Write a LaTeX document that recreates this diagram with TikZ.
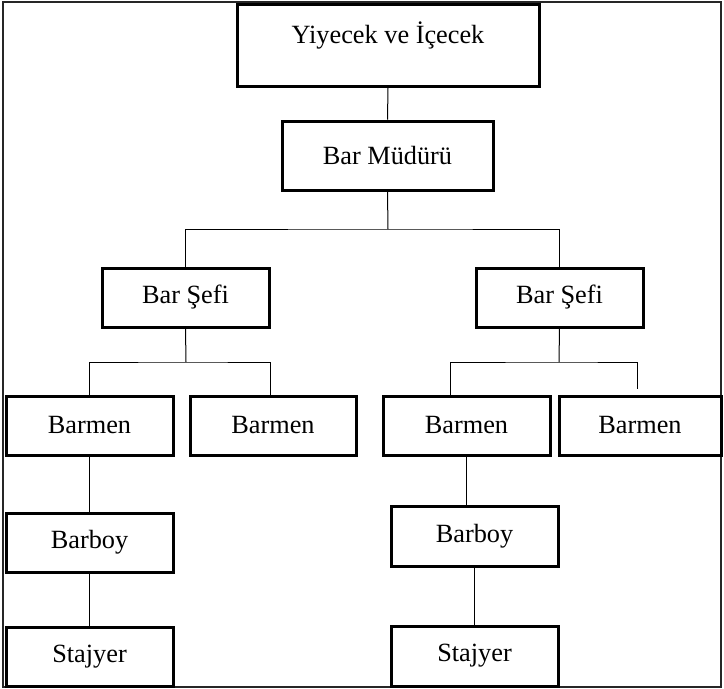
\documentclass[tikz,border=0pt]{standalone}
\usepackage{fontspec}
\setmainfont{Liberation Serif}
\begin{document}
\begin{tikzpicture}[x=1pt,y=-1pt,
  box/.style={draw=black, fill=white, line width=3pt, inner sep=0pt,
    font=\fontsize{26.3}{31}\selectfont},
  lbl/.style={inner sep=0pt, font=\fontsize{26.3}{31}\selectfont},
  link/.style={draw=black, line width=1pt},
  frame/.style={draw=black!85, line width=1.4pt}]
  \useasboundingbox (0,0) rectangle (724,689);

  % outer frame
  \draw[frame] (3,2) rectangle (721,687);

  % org chart boxes
  \node[box, minimum width=302pt, minimum height=82pt] (top) at (388,45.5) {};
  \node[lbl] (toptext) at (388,35) {Yiyecek ve İçecek};
  \node[box, minimum width=211pt, minimum height=69pt] (mgr) at (387.5,155.5) {Bar Müdürü};
  \node[box, minimum width=167pt, minimum height=59pt] (sefL) at (185.5,297.5) {Bar Şefi};
  \node[box, minimum width=167pt, minimum height=59pt] (sefR) at (559.5,297.5) {Bar Şefi};
  \node[box, minimum width=167pt, minimum height=59pt] (bm1) at (89.5,425.5) {Barmen};
  \node[box, minimum width=166pt, minimum height=59pt] (bm2) at (273,425.5) {Barmen};
  \node[box, minimum width=167pt, minimum height=59pt] (bm3) at (466.5,425.5) {Barmen};
  \node[box, minimum width=162pt, minimum height=59pt] (bm4) at (640,425.5) {Barmen};
  \node[box, minimum width=167pt, minimum height=59pt] (by1) at (89.5,542.5) {Barboy};
  \node[box, minimum width=167pt, minimum height=60pt] (by2) at (474.5,536) {Barboy};
  \node[box, minimum width=167pt, minimum height=59pt] (st1) at (89.5,656.5) {Stajyer};
  \node[box, minimum width=167pt, minimum height=60pt] (st2) at (474.5,656) {Stajyer};

  % junction points of the branch lines
  \coordinate (busA) at (388,229);
  \coordinate (busL) at (186,362);
  \coordinate (busR) at (559,362);
  \coordinate (stubR) at (637,389);

  % connectors
  \draw[link] (top.south) -- (mgr.north);
  \draw[link] (mgr.south) -- (busA);
  \draw[link] (sefL.north) |- (busA) -| (sefR.north);
  \draw[link] (sefL.south) -- (busL);
  \draw[link] (bm1.north) |- (busL) -| ([xshift=-3pt]bm2.north);
  \draw[link] (sefR.south) -- (busR);
  \draw[link] ([xshift=-16pt]bm3.north) |- (busR) -| (stubR);
  \draw[link] (bm1.south) -- (by1.north);
  \draw[link] (by1.south) -- (st1.north);
  \draw[link] (bm3.south) -- (bm3.south |- by2.north);
  \draw[link] (by2.south) -- (st2.north);
\end{tikzpicture}
\end{document}
